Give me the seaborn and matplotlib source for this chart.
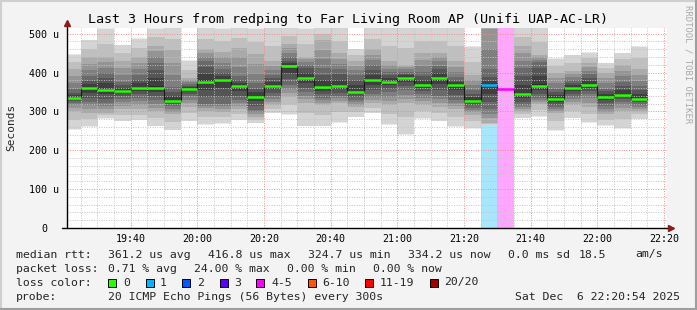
import numpy as np
import pandas as pd
import matplotlib
matplotlib.use("Agg")
import matplotlib.pyplot as plt
import matplotlib.dates as mdates
from matplotlib.ticker import MultipleLocator
from matplotlib.patches import Rectangle
from matplotlib.lines import Line2D
import seaborn as sns

# ---------------- data (values in microseconds) ----------------
start_time = "2025-12-06 19:20"
window_start = "2025-12-06 19:20:54"
window_end = "2025-12-06 22:20:54"

median = [335, 360, 356, 353, 361, 361, 328, 358, 377, 382, 366, 338, 366, 416, 387, 363, 366, 351,
          380, 377, 387, 369, 387, 369, 326, 367, 359, 345, 366, 331, 361, 369, 338, 343, 333]
smoke_hi = [446, 483, 513, 470, 487, 513, 515, 430, 515, 512, 515, 513, 515, 515, 512, 515, 515, 459,
            515, 515, 515, 515, 515, 515, 466, 515, np.nan, 515, 515, 436, 444, 451, 424, 449, 467]
smoke_mid_hi = [410, 440, 440, 430, 440, 470, 460, 385, 462, 455, 465, 450, 430, 475, 440, 485, 450, 430,
                460, 430, 420, 450, 450, 430, 395, 515, np.nan, 470, 445, 400, 405, 425, 400, 420, 410]
smoke_dark_hi = [352, 385, 395, 372, 388, 420, 355, 368, 425, 405, 385, 365, 390, 435, 418, 405, 405, 390,
                 414, 397, 400, 397, 414, 384, 350, 395, np.nan, 405, 425, 355, 378, 392, 355, 372, 360]
smoke_dark_lo = [322, 325, 322, 333, 337, 330, 315, 340, 320, 320, 330, 305, 340, 370, 350, 335, 340, 330,
                 345, 350, 355, 345, 341, 330, 310, 307, np.nan, 315, 335, 310, 338, 345, 315, 325, 318]
smoke_mid_lo = [300, 295, 295, 303, 303, 298, 290, 310, 300, 298, 305, 285, 315, 335, 320, 315, 320, 310,
                320, 315, 320, 315, 310, 305, 290, 268, np.nan, 300, 318, 295, 315, 310, 290, 300, 300]
smoke_lo = [251, 260, 281, 274, 276, 261, 251, 274, 265, 268, 277, 270, 295, 290, 261, 261, 270, 285,
            294, 265, 240, 280, 274, 260, 255, 265, np.nan, 282, 285, 250, 282, 270, 263, 255, 280]
loss_pct = [0, 0, 0, 0, 0, 0, 0, 0, 0, 0, 0, 0, 0, 0, 0, 0, 0, 0,
            0, 0, 0, 0, 0, 0, 0, 5, 24, 0, 0, 0, 0, 0, 0, 0, 0]

y_ticks = [0, 100, 200, 300, 400, 500]
y_tick_labels = ["0", "100 u", "200 u", "300 u", "400 u", "500 u"]

loss_labels = ["0", "1", "2", "3", "4-5", "6-10", "11-19", "20/20"]
loss_colors = ["#26ff00", "#00b8ff", "#0059ff", "#5e00ff", "#ff00ff", "#ff5500", "#ff0000", "#a10000"]

title = "Last 3 Hours from redping to Far Living Room AP (Unifi UAP-AC-LR)"

# ---------------- style ----------------
sns.set_style("white")
plt.rcParams['font.family'] = ['DejaVu Sans Mono', 'DejaVu Sans']

W, H = 697, 310
BG = '#f3f3f3'
fig = plt.figure(figsize=(W / 100, H / 100), dpi=100, facecolor=BG)


def fx(x):
    return x / W


def fy(y):
    return 1 - y / H


ax = fig.add_axes([fx(67), fy(228), 600 / W, 200.3 / H])
ax.set_facecolor('white')

times = pd.date_range(start_time, periods=len(median), freq='5min')
xs = mdates.date2num(times)
width = 5 / 1440.0

hi = np.array(smoke_hi, float)
mhi = np.array(smoke_mid_hi, float)
dhi = np.array(smoke_dark_hi, float)
dlo = np.array(smoke_dark_lo, float)
mlo = np.array(smoke_mid_lo, float)
lo = np.array(smoke_lo, float)
med = np.array(median, float)

ymax = 515.5


def loss_color(pct):
    n = pct * 20 / 100.0
    if n <= 0:
        return loss_colors[0]
    if n <= 1:
        return loss_colors[1]
    if n <= 2:
        return loss_colors[2]
    if n <= 3:
        return loss_colors[3]
    if n <= 5:
        return loss_colors[4]
    if n <= 10:
        return loss_colors[5]
    if n < 20:
        return loss_colors[6]
    return loss_colors[7]


# loss background columns
for i, p in enumerate(loss_pct):
    if p > 0:
        ax.bar(xs[i], ymax, bottom=0, width=width, align='edge', color=loss_color(p),
               alpha=0.35, lw=0, zorder=0.5)

# smoke: stepped grey shading, lightest at the extremes, darkest at the median
ygrid = np.linspace(0, ymax, 1032)
shade_levels = [0.88, 0.72, 0.44, 0.20, 0.44, 0.72, 0.88]
for i in range(len(median)):
    if np.isnan(hi[i]):
        continue
    anchors = [lo[i], mlo[i], dlo[i], med[i], dhi[i], mhi[i], hi[i]]
    levels = list(shade_levels)
    if loss_pct[i] > 0:
        levels[5] = levels[6] = 0.63
    g = np.interp(ygrid, anchors, levels)
    g = np.round(g * 12) / 12.0
    rgba = np.zeros((len(ygrid), 1, 4))
    rgba[..., 0] = g[:, None]
    rgba[..., 1] = g[:, None]
    rgba[..., 2] = g[:, None]
    inside = (ygrid >= lo[i]) & (ygrid <= hi[i])
    rgba[..., 3] = inside[:, None].astype(float)
    ax.imshow(rgba, extent=[xs[i], xs[i] + width, 0, ymax], origin='lower', aspect='auto',
              interpolation='nearest', zorder=1)

# median step connector
step_df = pd.DataFrame({
    "t": list(times) + [times[-1] + pd.Timedelta(minutes=5)],
    "rtt": list(med) + [med[-1]],
})
sns.lineplot(data=step_df, x="t", y="rtt", drawstyle='steps-post', estimator=None,
             color='#1a1a1a', lw=0.8, ax=ax, zorder=3)
# median coloured segments
ax.hlines(med, xs, xs + width, colors=[loss_color(p) for p in loss_pct], lw=1.8, zorder=4)

# axes limits / ticks
ax.set_xlim(mdates.date2num(pd.Timestamp(window_start)), mdates.date2num(pd.Timestamp(window_end)))
ax.set_ylim(0, ymax)
ax.set_aspect('auto')
ax.set_xlabel("")
ax.set_ylabel("")
ax.xaxis.set_major_locator(mdates.MinuteLocator(byminute=[0, 20, 40]))
ax.xaxis.set_minor_locator(mdates.MinuteLocator(byminute=list(range(0, 60, 5))))
ax.xaxis.set_major_formatter(mdates.DateFormatter('%H:%M'))
ax.set_yticks(y_ticks)
ax.set_yticklabels(y_tick_labels)
ax.yaxis.set_minor_locator(MultipleLocator(20))

ax.set_axisbelow(False)
ax.grid(which='minor', color='#c4c4c4', linestyle=(0, (1, 1.5)), lw=0.7)
ax.grid(which='major', color='#f08c8c', linestyle=(0, (1, 1.5)), lw=0.7)

ax.tick_params(axis='both', which='both', length=2, width=0.6, colors='#c4c4c4', labelcolor='black',
               labelsize=7.2)
ax.tick_params(axis='y', which='major', length=2, pad=14.5, colors='#f08c8c', labelcolor='black')
ax.tick_params(axis='x', which='major', length=2, pad=2, colors='#f08c8c', labelcolor='black')
for lbl in ax.get_yticklabels():
    lbl.set_ha('center')

for s in ax.spines.values():
    s.set_visible(False)

# axis lines with arrows
ax.add_line(Line2D([-5 / 600, 603 / 600], [0, 0], transform=ax.transAxes, color='black', lw=1.0,
                   clip_on=False, zorder=5))
ax.add_line(Line2D([0, 0], [0, 204 / 200.3], transform=ax.transAxes, color='black', lw=1.0,
                   clip_on=False, zorder=5))
ax.plot([604 / 600], [0], marker='>', color='#8b1a1a', markersize=4, transform=ax.transAxes,
        clip_on=False, zorder=6)
ax.plot([0], [205 / 200.3], marker='^', color='#8b1a1a', markersize=4, transform=ax.transAxes,
        clip_on=False, zorder=6)

# title / labels
fig.text(0.5, fy(19), title, ha='center', va='center', fontsize=9.6, color='black')
fig.text(fx(11), fy(127), "Seconds", rotation=90, ha='center', va='center', fontsize=8.0)
fig.text(fx(688), fy(5), "RRDTOOL / TOBI OETIKER", rotation=270, ha='center', va='top',
         fontsize=6.4, color='#a8a8a8')

# legend lines
LFS = 8.25
rows = {
    254.5: [(16, "median rtt:"), (108, "361.2 us avg"), (207.6, "416.8 us max"), (307.6, "324.7 us min"),
            (407.6, "334.2 us now"), (507.6, "0.0 ms sd"), (579, "18.5"), (635, "am/s")],
    268.5: [(16, "packet loss:"), (108, "0.71 % avg"), (194, "24.00 % max"), (286.7, "0.00 % min"),
            (372.7, "0.00 % now")],
    282.5: [(16, "loss color:")],
    297: [(16, "probe:"), (108, "20 ICMP Echo Pings (56 Bytes) every 300s")],
}
for yy, items in rows.items():
    for xx, txt in items:
        fig.text(fx(xx), fy(yy), txt, ha='left', va='center', fontsize=LFS)
fig.text(fx(680), fy(297), "Sat Dec  6 22:20:54 2025", ha='right', va='center', fontsize=LFS)

box_x = [108.4, 145.8, 182.2, 219.6, 256.4, 307.6, 365.3, 430.2]
lbl_x = [123, 160, 197, 233.8, 271, 321.8, 380, 444.4]
for bx, lx, lab, col in zip(box_x, lbl_x, loss_labels, loss_colors):
    fig.add_artist(Rectangle((fx(bx), fy(286.5)), 8 / W, 8 / H, transform=fig.transFigure,
                             facecolor=col, edgecolor='black', lw=0.7))
    fig.text(fx(lx), fy(282.5), lab, ha='left', va='center', fontsize=LFS)

# frame
fig.add_artist(Line2D([0, 1], [1 - 1 / H, 1 - 1 / H], transform=fig.transFigure, color='#cfcfcf', lw=1.5))
fig.add_artist(Line2D([1 / W, 1 / W], [0, 1], transform=fig.transFigure, color='#cfcfcf', lw=1.5))
fig.add_artist(Line2D([0, 1], [1.5 / H, 1.5 / H], transform=fig.transFigure, color='#9e9e9e', lw=1.5))
fig.add_artist(Line2D([1 - 1.5 / W, 1 - 1.5 / W], [0, 1], transform=fig.transFigure, color='#9e9e9e', lw=1.5))

fig.savefig("out.png", dpi=100, facecolor=BG)
